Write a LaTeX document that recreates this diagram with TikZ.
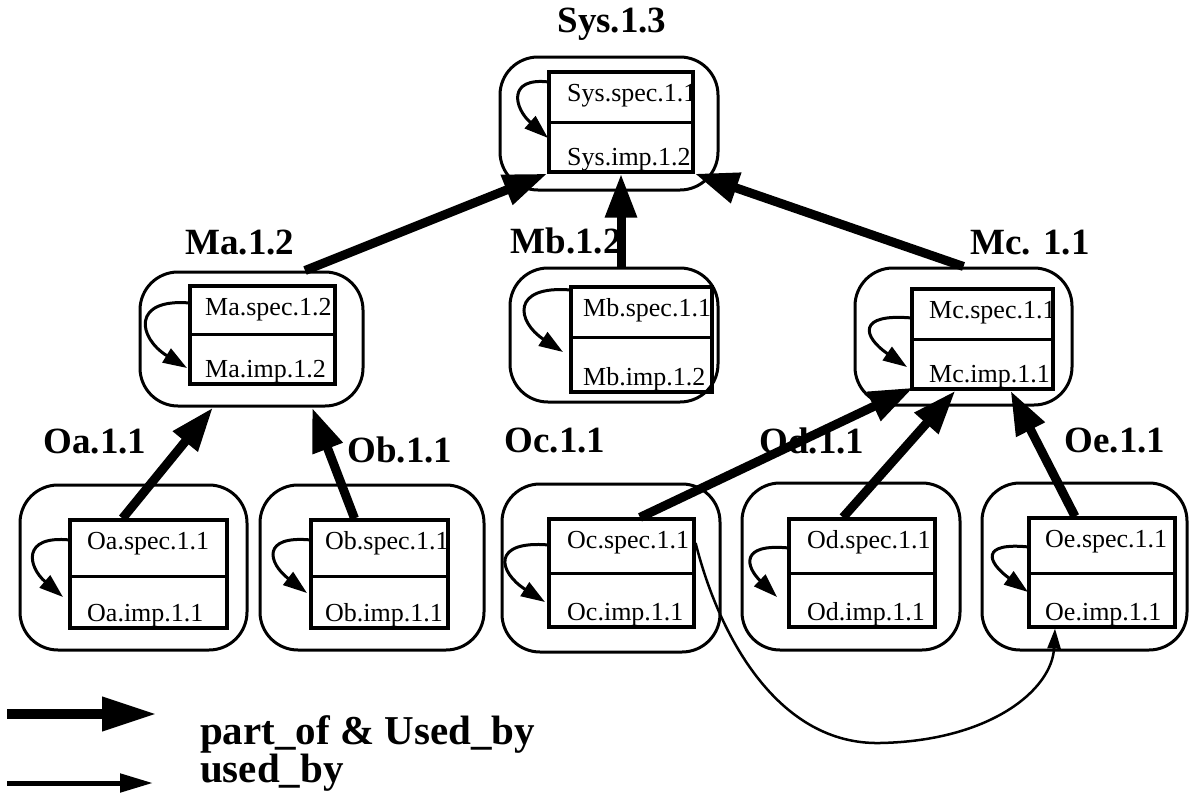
\documentclass[tikz,border=0pt]{standalone}
\usepackage{fontspec}
\setmainfont{Liberation Serif}
\usetikzlibrary{arrows.meta,calc}
\newcommand\labfont{\fontsize{37}{40}\selectfont\bfseries}
\newcommand\innfont{\fontsize{26}{28}\selectfont}
\newcommand\legfont{\fontsize{41}{43}\selectfont\bfseries}
\tikzset{
  outerbox/.style={draw, line width=3pt, rounded corners=38pt, inner sep=0pt},
  innerbox/.style={draw, line width=3.2pt, inner sep=0pt},
  divider/.style={line width=3pt},
  modlabel/.style={inner sep=0pt, font=\labfont},
  modtext/.style={inner sep=0pt, anchor=base west, font=\innfont},
  partof/.style={line width=9pt, -{Triangle[length=44pt,width=30pt]}},
  usedby/.style={line width=2.5pt, -{Triangle[length=20pt,width=13pt]}},
  selfloop/.style={line width=3pt, -{Triangle[length=24pt,width=16pt]}},
  legpart/.style={line width=10pt, -{Triangle[length=55pt,width=32pt]}},
  legused/.style={line width=5pt, -{Triangle[length=33pt,width=18pt]}},
}
\begin{document}
\begin{tikzpicture}[x=1pt,y=-1pt]
\useasboundingbox (0,0) rectangle (1191,795);
\foreach \n/\ox/\oy/\oX/\oY/\ix/\iy/\iX/\iY/\dv/\tx/\st/\it/\la/\lx/\lt/\lty in {
  sys/500/57/718/190/549/72/693/172/122/567/Sys.spec.1.1/Sys.imp.1.2/82/519/548/138,
  ma/140/272/363/406/190/286/335/384/334/205/Ma.spec.1.2/Ma.imp.1.2/303/143/187/368,
  mb/510/268/718/402/571/287/712/392/337/583/Mb.spec.1.1/Mb.imp.1.2/290/522/563/352,
  mc/855/268/1072/405/912/289/1053/389/339/929/Mc.spec.1.1/Mc.imp.1.1/318/868/907/367,
  oa/20/485/247/650/70/520/227/628/576/87/Oa.spec.1.1/Oa.imp.1.1/540/33/63/597,
  ob/260/485/484/650/311/520/448/628/576/325/Ob.spec.1.1/Ob.imp.1.1/540/273/307/593,
  oc/502/484/720/652/549/519/694/627/573/567/Oc.spec.1.1/Oc.imp.1.1/545/503/545/602,
  od/742/483/960/650/789/519/935/627/573/807/Od.spec.1.1/Od.imp.1.1/548/751/777/597,
  oe/982/483/1187/650/1029/518/1175/627/573/1045/Oe.spec.1.1/Oe.imp.1.1/547/992/1028/592}{
  \node[outerbox, minimum width={\oX-\ox}, minimum height={\oY-\oy}]
    (\n-o) at ({(\ox+\oX)/2},{(\oy+\oY)/2}) {};
  \node[innerbox, minimum width={\iX-\ix}, minimum height={\iY-\iy}]
    (\n-i) at ({(\ix+\iX)/2},{(\iy+\iY)/2}) {};
  \draw[divider] (\ix,\dv) -- (\iX,\dv);
  \begin{scope}
    \clip (\ix,\iy) rectangle (\iX,\iY);
    \node[modtext] (\n-s) at (\tx,{\iy+29}) {\st};
    \node[modtext] (\n-m) at (\tx,{\iY-7}) {\it};
  \end{scope}
  \draw[selfloop] (\ix,\la) .. controls ({\lx-12},{\la-5}) and ({\lx-5},{\lty-30}) .. (\lt,\lty);
}
% module labels
\node[modlabel] (l-sys) at (612,24) {Sys.1.3};
\node[modlabel] (l-ma) at (240,243) {Ma.1.2};
\node[modlabel] (l-mb) at (566,241) {Mb.1.2};
\node[modlabel] (l-mc) at (1030,243) {Mc. 1.1};
\node[modlabel] (l-oa) at (95,442) {Oa.1.1};
\node[modlabel] (l-ob) at (400,450) {Ob.1.1};
\node[modlabel] (l-oc) at (555,441) {Oc.1.1};
\node[modlabel] (l-od) at (812,441) {Od.1.1};
\node[modlabel] (l-oe) at (1115,441) {Oe.1.1};
% part_of arrows
\draw[partof] ($(ma-o.north)+(53.5,0)$) -- (sys-i.south west);
\draw[partof] (mb-o.north -| sys-i.south) -- (sys-i.south);
\draw[partof] (mc-o.north) -- (sys-i.south east);
\draw[partof] ($(oa-i.north)+(-26,0)$) -- ($(ma-o.south)+(-38.5,0)$);
\draw[partof] ($(ob-i.north)+(-25,0)$) -- ($(ma-o.south)+(60.5,0)$);
\draw[partof] ($(oc-i.north)+(18.5,0)$) -- ($(mc-i.south west)+(3,-3)$);
\draw[partof] ($(od-i.north)+(-19,0)$) -- ($(mc-i.south)+(-27,0)$);
\draw[partof] ($(oe-i.north)+(-27,0)$) -- ($(mc-i.south)+(28,0)$);
% used_by curve
\draw[usedby] ($(oc-i.east)+(0,-30)$) .. controls (720,640) and (780,745) .. (880,743)
  .. controls (990,741) and (1052,690) .. ($(oe-i.south)+(-47,0)$);
% legend
\coordinate (lg1a) at (7,714);
\coordinate (lg1b) at (157,714);
\coordinate (lg2a) at (7,783);
\coordinate (lg2b) at (153,783);
\draw[legpart] (lg1a) -- (lg1b);
\draw[legused] (lg2a) -- (lg2b);
\node[inner sep=0pt, anchor=base west, font=\legfont] (leg1) at (200,744) {part\_of \& Used\_by};
\node[inner sep=0pt, anchor=base west, font=\legfont] (leg2) at (200,782) {used\_by};
\end{tikzpicture}
\end{document}
